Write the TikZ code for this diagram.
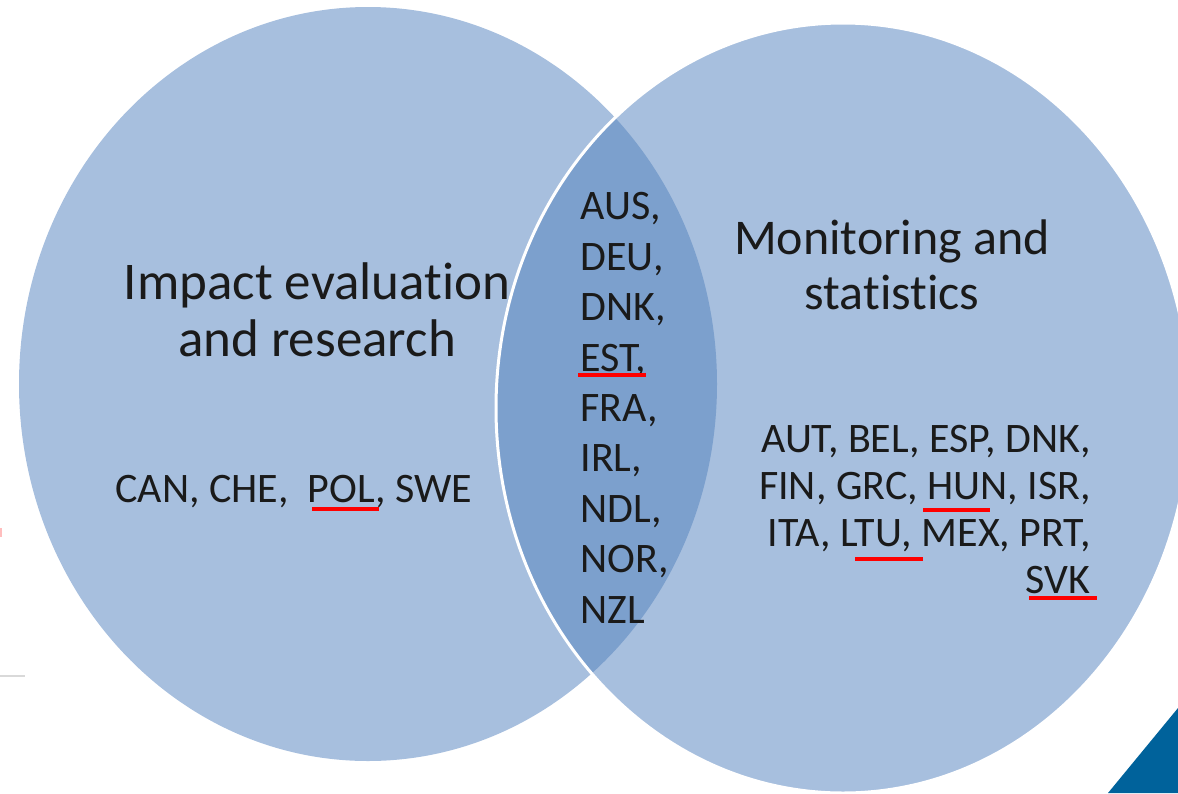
\documentclass[tikz,border=0pt]{standalone}
\usepackage{fontspec}
\setmainfont{Carlito}[Ligatures=NoCommon]
\definecolor{vennlight}{RGB}{167,191,222}
\definecolor{vennmid}{RGB}{124,160,205}
\definecolor{cornerblue}{RGB}{0,98,155}
\definecolor{textdark}{RGB}{26,26,26}
\tikzset{every picture/.style={line width=0.75pt}}
\tikzset{
  countries/.style={inner sep=0pt, text=textdark, font=\fontsize{31.5}{37.8}\selectfont},
  heading/.style={inner sep=0pt, text=textdark, align=center},
  redmark/.style={draw=red, line width=2.5pt},
}

\begin{document}
\begin{tikzpicture}[x=0.75pt,y=0.75pt,yscale=-1,xscale=1]
\useasboundingbox (0,0) rectangle (1178,793);

%Shape: Ellipse left
\fill[vennlight] (368,384) ellipse [x radius=349, y radius=377];
%Shape: Ellipse right
\fill[vennlight] (843,408) ellipse [x radius=347, y radius=385];
%Shape: overlap
\begin{scope}
  \clip (368,384) ellipse [x radius=349, y radius=377];
  \fill[vennmid] (843,408) ellipse [x radius=347, y radius=385];
\end{scope}
\draw[white, line width=2.25pt] (843,408) ellipse [x radius=347, y radius=385];

%Shape: Triangle corner
\fill[cornerblue] (1108,793) -- (1178,708) -- (1178,793) -- cycle;
%Straight Lines at left edge
\draw[color={rgb,255:red,217;green,217;blue,217}, line width=1.1pt] (0,676) -- (25,676);
\draw[color={rgb,255:red,255;green,190;blue,190}, line width=1.5pt] (1,528) -- (1,537);

% Text Node
\node (impact) [heading, anchor=base, font=\fontsize{39.75}{42.75}\selectfont] at (317,356) {Impact evaluation\\and research};
% Text Node
\node (monitor) [heading, anchor=base, font=\fontsize{37.5}{41.25}\selectfont] at (892,309) {Monitoring and\\statistics};
% Text Node
\node (leftonly) [countries, anchor=base west] at (115,502) {CAN, CHE,\ \ POL, SWE};
% Text Node
\node (both) [countries, anchor=base west, align=left] at (580,623) {AUS,\\DEU,\\DNK,\\EST,\\FRA,\\IRL,\\NDL,\\NOR,\\NZL};
% Text Node
\node (rightonly) [countries, anchor=base east, align=right, font=\fontsize{31.5}{35.25}\selectfont] at (1091,593) {AUT, BEL, ESP, DNK,\\FIN, GRC, HUN, ISR,\\ITA, LTU, MEX, PRT,\\SVK};

%Red underlines
\draw[redmark] (312,509) -- (379,509);
\draw[redmark] (578,375) -- (646,375);
\draw[redmark] (923,510) -- (990,510);
\draw[redmark] (855,559) -- (923,559);
\draw[redmark] (1029,598) -- (1097,598);

\end{tikzpicture}
\end{document}
